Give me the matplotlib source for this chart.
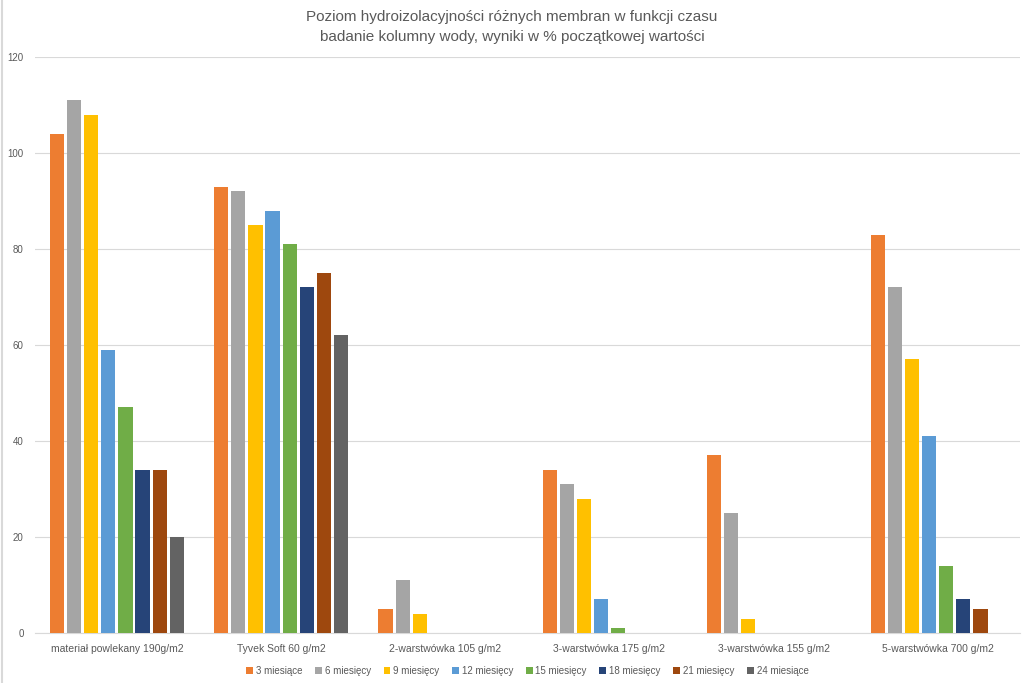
import numpy as np
import matplotlib.pyplot as plt

categories = [
    "materiał powlekany 190g/m2",
    "Tyvek Soft 60 g/m2",
    "2-warstwówka 105 g/m2",
    "3-warstwówka 175 g/m2",
    "3-warstwówka 155 g/m2",
    "5-warstwówka 700 g/m2",
]

series_names = [
    "3 miesiące", "6 miesięcy", "9 miesięcy", "12 miesięcy",
    "15 miesięcy", "18 miesięcy", "21 miesięcy", "24 miesiące",
]

m3 = [104, 93, 5, 34, 37, 83]
m6 = [111, 92, 11, 31, 25, 72]
m9 = [108, 85, 4, 28, 3, 57]
m12 = [59, 88, 0, 7, 0, 41]
m15 = [47, 81, 0, 1, 0, 14]
m18 = [34, 72, 0, 0, 0, 7]
m21 = [34, 75, 0, 0, 0, 5]
m24 = [20, 62, 0, 0, 0, 0]

series_values = [m3, m6, m9, m12, m15, m18, m21, m24]

colors = [
    "#ED7D31", "#A5A5A5", "#FFC000", "#5B9BD5",
    "#70AD47", "#264478", "#9E480E", "#636363",
]

plt.rcParams["font.family"] = ["Liberation Sans", "DejaVu Sans"]

fig = plt.figure(figsize=(10.24, 6.83), dpi=100)
ax = fig.add_axes([0.034, 0.0732, 0.962, 0.8434])

x = np.arange(len(categories))
pitch = 0.104
width = 0.086

for i, (name, vals) in enumerate(zip(series_names, series_values)):
    offset = (i - 3.5) * pitch
    ax.bar(
        x + offset,
        vals,
        width=width,
        color=colors[i],
        label=name,
        zorder=3,
    )

ax.set_xlim(-0.5, len(categories) - 0.5)
ax.set_ylim(0, 120)
ax.set_yticks(range(0, 121, 20))
ax.yaxis.grid(True, color="#D9D9D9", linewidth=0.8, zorder=0)
ax.tick_params(axis="y", length=0, labelsize=7, labelcolor="#595959", pad=8)
ax.tick_params(axis="x", length=0, labelsize=7.5, labelcolor="#595959", pad=8)
ax.set_xticks(x)
ax.set_xticklabels(categories)

for side in ["top", "right", "left"]:
    ax.spines[side].set_visible(False)
ax.spines["bottom"].set_color("#D9D9D9")

fig.text(
    0.5, 0.985,
    "Poziom hydroizolacyjności różnych membran w funkcji czasu\n"
    "badanie kolumny wody, wyniki w % początkowej wartości",
    ha="center", va="top", fontsize=11, color="#595959", linespacing=1.5,
)

ax.legend(
    loc="upper center",
    bbox_to_anchor=(0.5, -0.042),
    ncol=8,
    frameon=False,
    fontsize=7,
    handlelength=0.7,
    handleheight=0.7,
    handletextpad=0.3,
    columnspacing=1.3,
    labelcolor="#595959",
)

fig.add_artist(plt.Line2D([0.002, 0.002], [0, 1], color="#D9D9D9", linewidth=1.5))

fig.savefig("out.png", dpi=100)
